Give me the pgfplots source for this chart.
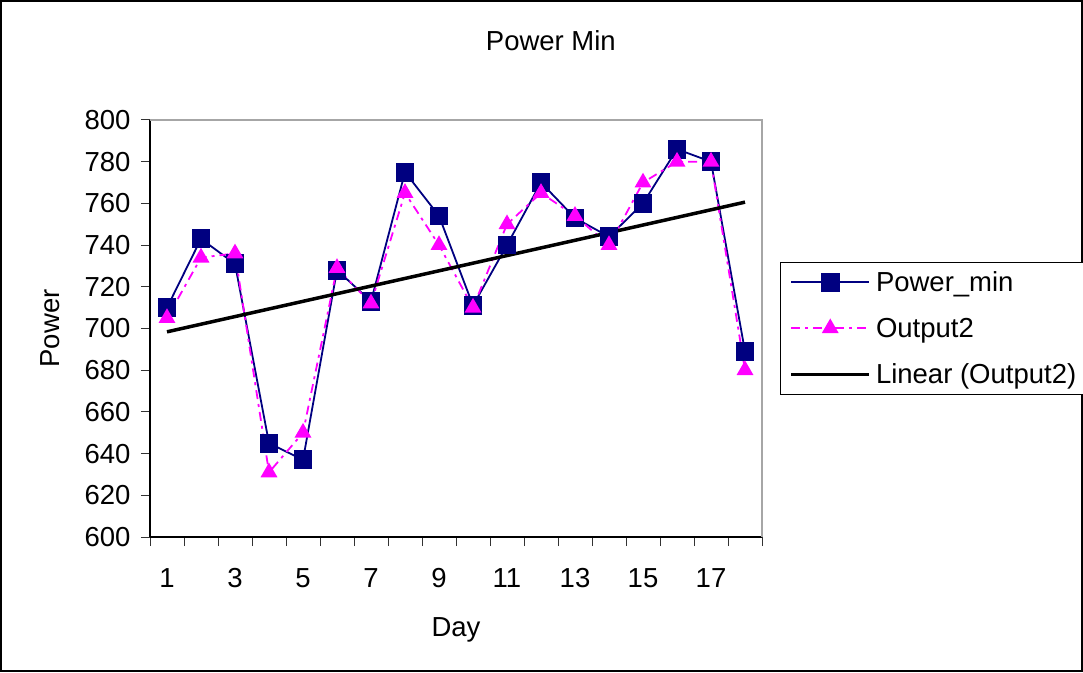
\documentclass[border=0pt]{standalone}
\usepackage{fontspec}
\setmainfont{Liberation Sans}
\usepackage{pgfplots}
\pgfplotsset{compat=1.18}
\definecolor{navy}{RGB}{0,0,128}
\definecolor{mag}{RGB}{255,0,255}
\newcommand{\xlfont}{\fontsize{27.5}{32}\selectfont}

\begin{document}
\begin{tikzpicture}
\useasboundingbox (0,0) rectangle (1083pt,672pt);
\draw[line width=2pt] (1pt,1pt) rectangle (1082pt,671pt);
\begin{axis}[
  at={(150pt,135pt)}, anchor=south west,
  width=612pt, height=417pt, scale only axis,
  xmin=0.5, xmax=18.5, ymin=600, ymax=800,
  clip=false,
  axis lines*=left, axis line style={line width=1.3pt},
  tick align=outside, tick pos=left, major tick length=9pt,
  tick style={line width=1pt, black!80},
  xtick={0.5,1.5,...,18.5}, xticklabels={},
  extra x ticks={1,3,...,17},
  extra x tick style={major tick length=0pt, tick label style={yshift=-28pt}},
  ytick={600,620,...,800},
  yticklabel style={xshift=-7pt},
  /pgf/number format/assume math mode=true,
  tick label style={font=\xlfont},
  label style={font=\xlfont},
  title={Power Min},
  title style={at={(axis description cs:0.655,1.175)}, anchor=center, font=\xlfont},
  xlabel={Day},
  xlabel style={at={(axis description cs:0.5,-0.222)}, anchor=center},
  ylabel={Power},
  ylabel style={at={(axis description cs:-0.163,0.5)}, anchor=center},
  legend cell align=left,
  legend style={at={(axis description cs:1.0294,0.6595)}, anchor=north west,
    draw=black, line width=1pt, font=\xlfont,
    inner xsep=9pt, inner ysep=9pt, row sep=25pt,
    nodes={inner sep=0pt},
    /tikz/every odd column/.append style={column sep=5pt}},
  legend image code/.code={\draw[mark repeat=2,mark phase=2,#1]
    plot coordinates {(0pt,0pt) (39pt,0pt) (78pt,0pt)};},
]
\draw[gray!70, line width=1.3pt] (rel axis cs:0,1) -- (rel axis cs:1,1) -- (rel axis cs:1,0);
% Power_min
\addplot[navy, line width=1.8pt, mark=square*, mark size=8.5pt,
  mark options={solid, fill=navy}]
  coordinates {(1,710)(2,743)(3,731)(4,645)(5,637)(6,728)(7,713)(8,775)(9,754)
    (10,711)(11,740)(12,770)(13,753)(14,744)(15,760)(16,786)(17,780)(18,689)};
% Output2
\addplot[mag, line width=1.8pt, dash pattern=on 9pt off 5pt on 3pt off 5pt,
  mark=triangle*, mark size=8pt, mark options={solid, fill=mag}]
  coordinates {(1,705)(2,734)(3,736)(4,631)(5,650)(6,729)(7,712)(8,765)(9,740)
    (10,710)(11,750)(12,765)(13,754)(14,740)(15,770)(16,780)(17,780)(18,680)};
% Linear (Output2): least-squares trend of Output2
\addplot[black, line width=3.5pt] coordinates {(1,698.4)(18,760.6)};
\legend{Power\_min, Output2, Linear (Output2)}
\end{axis}
\end{tikzpicture}
\end{document}
